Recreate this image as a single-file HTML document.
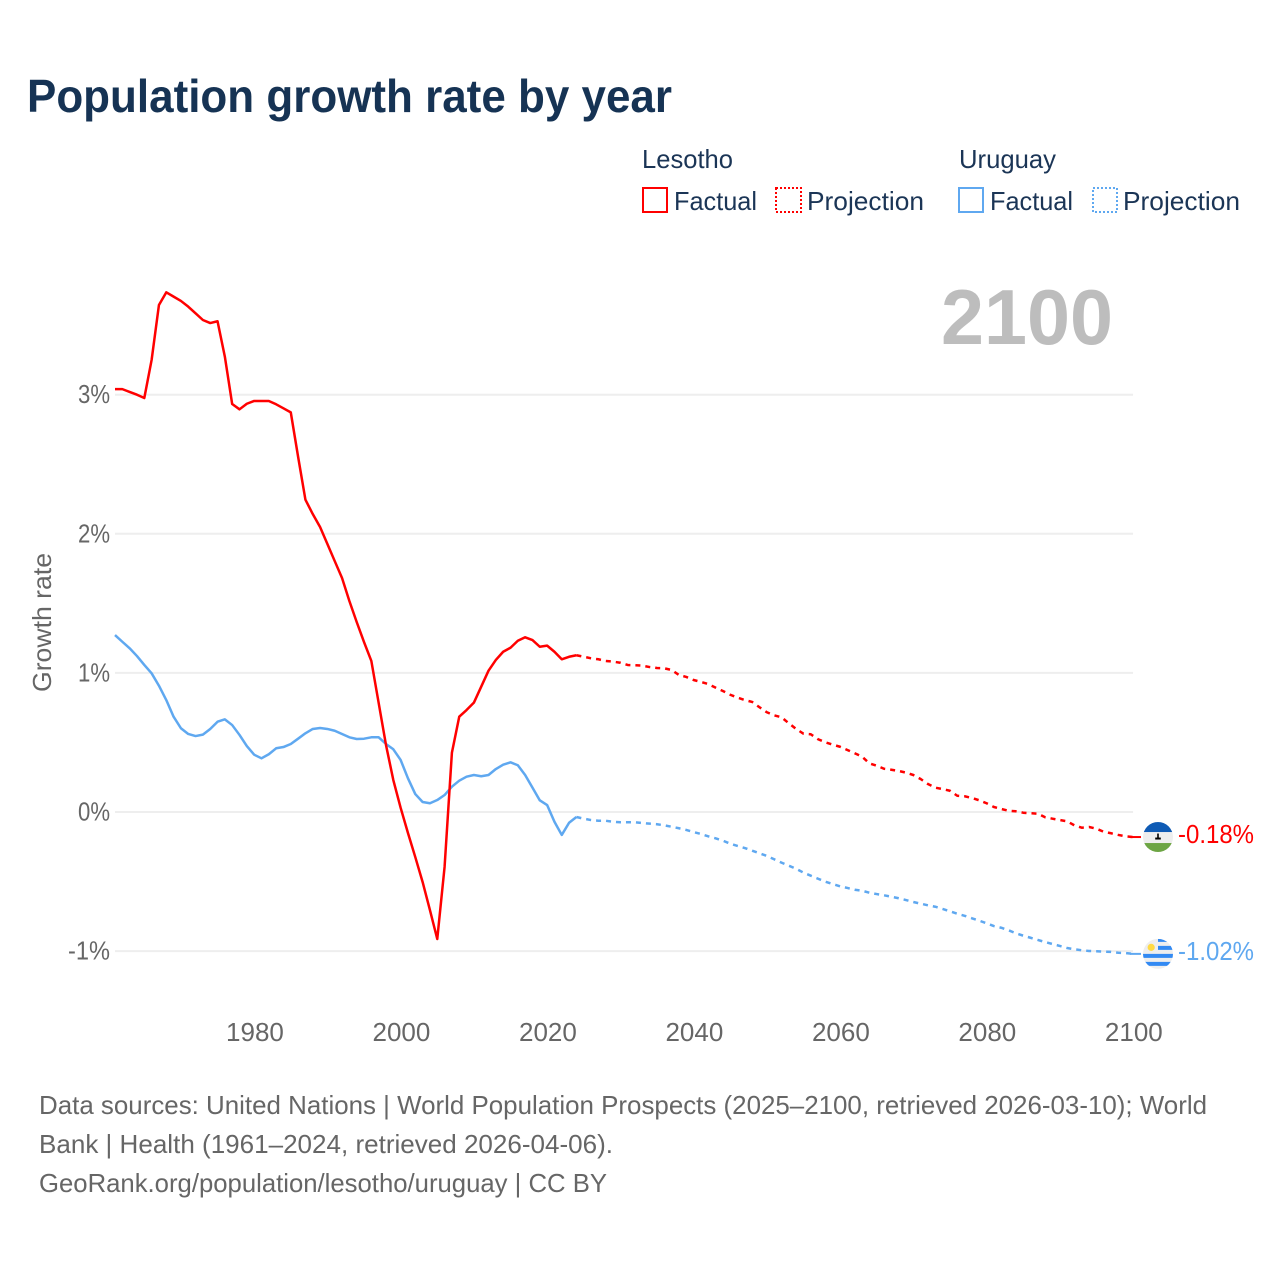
<!DOCTYPE html>
<html lang="en">
<head>
<meta charset="utf-8">
<title>Population growth rate by year</title>
<style>
html,body{margin:0;padding:0;background:#fff;}
svg{display:block;font-family:"Liberation Sans",sans-serif;}
</style>
</head>
<body>
<svg id="chart" xmlns="http://www.w3.org/2000/svg" width="1280" height="1280" viewBox="0 0 1280 1280">
  <text x="27" y="112" font-size="46" font-weight="700" fill="#163354" textLength="645" lengthAdjust="spacingAndGlyphs">Population growth rate by year</text>

  <g font-size="26" fill="#1b3556">
    <text x="642" y="168" textLength="91" lengthAdjust="spacingAndGlyphs">Lesotho</text>
    <text x="959" y="168" textLength="97" lengthAdjust="spacingAndGlyphs">Uruguay</text>
    <g>
      <rect x="643" y="188" width="24" height="24" fill="none" stroke="#ff0000" stroke-width="2"/>
      <text x="674" y="210" textLength="83" lengthAdjust="spacingAndGlyphs">Factual</text>
    </g>
    <g>
      <rect x="776" y="188" width="25" height="24" fill="none" stroke="#ff0000" stroke-width="2" stroke-dasharray="2 2"/>
      <text x="807" y="210" textLength="117" lengthAdjust="spacingAndGlyphs">Projection</text>
    </g>
    <g>
      <rect x="959" y="188" width="24" height="24" fill="none" stroke="#5fa8f0" stroke-width="2"/>
      <text x="990" y="210" textLength="83" lengthAdjust="spacingAndGlyphs">Factual</text>
    </g>
    <g>
      <rect x="1093" y="188" width="24" height="24" fill="none" stroke="#5fa8f0" stroke-width="2" stroke-dasharray="2 2"/>
      <text x="1123" y="210" textLength="117" lengthAdjust="spacingAndGlyphs">Projection</text>
    </g>
  </g>

  <text x="941" y="344" font-size="78" font-weight="700" fill="#bdbdbd" textLength="172" lengthAdjust="spacingAndGlyphs">2100</text>
  <text transform="translate(51,692) rotate(-90)" font-size="26" fill="#666666" textLength="139" lengthAdjust="spacingAndGlyphs">Growth rate</text>

  <g id="grid"></g>
  <g id="yaxis"></g>
  <g id="xaxis"></g>
  <g id="series"></g>

  <g id="end-lesotho"></g>
  <g id="end-uruguay"></g>

  <defs>
    <clipPath id="clip-ls"><circle cx="0" cy="0" r="15"/></clipPath>
    <clipPath id="clip-uy"><circle cx="0" cy="0" r="15"/></clipPath>
  </defs>

  <g font-size="26" fill="#666666">
    <text x="39" y="1114" textLength="1168" lengthAdjust="spacingAndGlyphs">Data sources: United Nations | World Population Prospects (2025–2100, retrieved 2026-03-10); World</text>
    <text x="39" y="1153" textLength="574" lengthAdjust="spacingAndGlyphs">Bank | Health (1961–2024, retrieved 2026-04-06).</text>
    <text x="39" y="1192" textLength="568" lengthAdjust="spacingAndGlyphs">GeoRank.org/population/lesotho/uruguay | CC BY</text>
  </g>
</svg>

<script>
const xTickLabels = [1980, 2000, 2020, 2040, 2060, 2080, 2100];
const yTickLabels = [-1, 0, 1, 2, 3];
const factualStartYear = 1961;
const projectionStartYear = 2024;

const lesothoFactual = [
  3.04,3.04,3.02,3.00,2.976,3.25,3.645,3.736,3.705,3.674,
  3.633,3.585,3.537,3.515,3.528,3.273,2.933,2.895,2.935,2.955,
  2.955,2.955,2.931,2.902,2.873,2.554,2.245,2.142,2.049,1.927,
  1.804,1.682,1.517,1.366,1.222,1.086,0.784,0.482,0.23,0.03,
  -0.151,-0.324,-0.503,-0.705,-0.913,-0.395,0.426,0.685,0.733,0.786,
  0.901,1.016,1.093,1.152,1.181,1.231,1.256,1.236,1.188,1.196,
  1.152,1.098,1.116,1.127
];
const lesothoProjection = [
  1.127,1.116,1.105,1.098,1.086,1.081,1.073,1.057,1.055,1.052,
  1.042,1.035,1.033,1.021,0.985,0.971,0.949,0.935,0.92,0.894,
  0.87,0.843,0.822,0.805,0.791,0.753,0.717,0.695,0.681,0.638,
  0.597,0.563,0.559,0.523,0.501,0.484,0.469,0.446,0.422,0.398,
  0.35,0.333,0.311,0.304,0.295,0.283,0.266,0.237,0.201,0.175,
  0.165,0.153,0.117,0.113,0.101,0.084,0.063,0.036,0.022,0.009,
  0.005,-0.005,-0.009,-0.012,-0.038,-0.048,-0.058,-0.067,-0.096,-0.113,
  -0.108,-0.12,-0.142,-0.153,-0.165,-0.175,-0.18
];
const uruguayFactual = [
  1.272,1.224,1.177,1.121,1.057,0.997,0.908,0.805,0.685,0.602,
  0.561,0.546,0.556,0.597,0.649,0.666,0.625,0.554,0.474,0.412,
  0.386,0.415,0.458,0.467,0.489,0.527,0.566,0.597,0.604,0.597,
  0.584,0.561,0.537,0.525,0.527,0.537,0.537,0.489,0.451,0.374,
  0.242,0.129,0.072,0.063,0.086,0.122,0.182,0.225,0.254,0.266,
  0.257,0.266,0.309,0.34,0.357,0.336,0.266,0.175,0.084,0.05,
  -0.07,-0.165,-0.077,-0.036
];
const uruguayProjection = [
  -0.036,-0.048,-0.058,-0.063,-0.063,-0.07,-0.074,-0.074,-0.074,-0.079,
  -0.084,-0.088,-0.096,-0.106,-0.117,-0.129,-0.144,-0.158,-0.175,-0.189,
  -0.206,-0.228,-0.244,-0.259,-0.278,-0.297,-0.316,-0.34,-0.364,-0.386,
  -0.408,-0.436,-0.458,-0.48,-0.501,-0.518,-0.534,-0.546,-0.559,-0.566,
  -0.58,-0.59,-0.599,-0.609,-0.62,-0.633,-0.647,-0.659,-0.671,-0.681,
  -0.697,-0.714,-0.731,-0.746,-0.764,-0.781,-0.8,-0.82,-0.832,-0.85,
  -0.872,-0.889,-0.904,-0.92,-0.935,-0.949,-0.963,-0.978,-0.987,-0.994,
  -0.999,-1.001,-1.004,-1.006,-1.012,-1.014,-1.02
];

const NS = 'http://www.w3.org/2000/svg';
const RED = '#ff0000';
const BLUE = '#5fa8f0';
const xScale = function (year) { return 115 + (year - 1961) * 7.324; };
const yScale = function (v) { return 812 - v * 139.1; };

function make(tag, parent) {
  const el = document.createElementNS(NS, tag);
  parent.appendChild(el);
  return el;
}

const grid = document.getElementById('grid');
const yaxis = document.getElementById('yaxis');
yTickLabels.forEach(function (v) {
  const line = make('line', grid);
  
  
  line.setAttribute('x1', xScale(1961));
  line.setAttribute('x2', xScale(2100));
  line.setAttribute('y1', yScale(v));
  line.setAttribute('y2', yScale(v));
  line.setAttribute('stroke', '#eeeeee');
  line.setAttribute('stroke-width', '2');
  const t = make('text', yaxis);
  
  
  t.setAttribute('x', 110);
  t.setAttribute('y', yScale(v) + 8.5);
  t.setAttribute('text-anchor', 'end');
  t.setAttribute('font-size', '26');
  t.setAttribute('fill', '#666666');
  t.setAttribute('textLength', v < 0 ? 42 : 32);
  t.setAttribute('lengthAdjust', 'spacingAndGlyphs');
  t.textContent = v + '%';
});

const xaxis = document.getElementById('xaxis');
xTickLabels.forEach(function (yr) {
  const t = make('text', xaxis);
  
  
  t.setAttribute('x', xScale(yr) + 0.8);
  t.setAttribute('y', 1041);
  t.setAttribute('text-anchor', 'middle');
  t.setAttribute('font-size', '26');
  t.setAttribute('fill', '#666666');
  t.textContent = yr;
});

function drawLine(values, startYear, color, dashed, name) {
  const pts = values.map(function (v, i) {
    return xScale(startYear + i).toFixed(2) + ',' + yScale(v).toFixed(2);
  }).join(' ');
  const p = make('polyline', document.getElementById('series'));
  
  
  p.setAttribute('points', pts);
  p.setAttribute('fill', 'none');
  p.setAttribute('stroke', color);
  p.setAttribute('stroke-width', '2.5');
  p.setAttribute('stroke-linejoin', 'round');
  if (dashed) p.setAttribute('stroke-dasharray', '5 5');
}

drawLine(uruguayProjection, projectionStartYear, BLUE, true, 'line-uruguay-projection');
drawLine(uruguayFactual, factualStartYear, BLUE, false, 'line-uruguay-factual');
drawLine(lesothoProjection, projectionStartYear, RED, true, 'line-lesotho-projection');
drawLine(lesothoFactual, factualStartYear, RED, false, 'line-lesotho-factual');

function endMarker(groupId, values, color) {
  const last = values[values.length - 1];
  const yPos = yScale(last);
  const g = document.getElementById(groupId);
  const leader = make('line', g);
  
  
  leader.setAttribute('x1', xScale(2100) - 3);
  leader.setAttribute('x2', 1141);
  leader.setAttribute('y1', yPos);
  leader.setAttribute('y2', yPos);
  leader.setAttribute('stroke', color);
  leader.setAttribute('stroke-width', '2');
  const t = make('text', g);
  
  
  t.setAttribute('x', 1178);
  t.setAttribute('y', yPos + 6);
  t.setAttribute('font-size', '26');
  t.setAttribute('fill', color);
  t.setAttribute('textLength', 76);
  t.setAttribute('lengthAdjust', 'spacingAndGlyphs');
  t.textContent = last.toFixed(2) + '%';
  const flag = make('g', g);
  
  
  flag.setAttribute('transform', 'translate(1158,' + yPos + ')');
  return flag;
}

function rect(parent, x, y, w, h, fill) {
  const r = make('rect', parent);
  
  
  r.setAttribute('x', x);
  r.setAttribute('y', y);
  r.setAttribute('width', w);
  r.setAttribute('height', h);
  r.setAttribute('fill', fill);
  return r;
}

const lsFlag = make('g', endMarker('end-lesotho', lesothoProjection, RED));


lsFlag.setAttribute('clip-path', 'url(#clip-ls)');
rect(lsFlag, -15, -15, 30, 30, '#eeeeee');
rect(lsFlag, -15, -15, 30, 10, '#0f5bb5');
rect(lsFlag, -15, 6, 30, 9, '#6da544');
rect(lsFlag, -0.8, -3.5, 1.6, 5, '#000000');
rect(lsFlag, -2.8, 0.5, 5.6, 2, '#000000');

const uyFlag = make('g', endMarker('end-uruguay', uruguayProjection, BLUE));


uyFlag.setAttribute('clip-path', 'url(#clip-uy)');
rect(uyFlag, -15, -15, 30, 30, '#eeeeee');
rect(uyFlag, 0, -15, 15, 3, '#338af3');
rect(uyFlag, 0, -8, 15, 4, '#338af3');
rect(uyFlag, -15, 0, 30, 4, '#338af3');
rect(uyFlag, -15, 8, 30, 4, '#338af3');
const sun = make('circle', uyFlag);


sun.setAttribute('cx', -6.8);
sun.setAttribute('cy', -6.5);
sun.setAttribute('r', 3.6);
sun.setAttribute('fill', '#ffda44');
</script>
</body>
</html>
